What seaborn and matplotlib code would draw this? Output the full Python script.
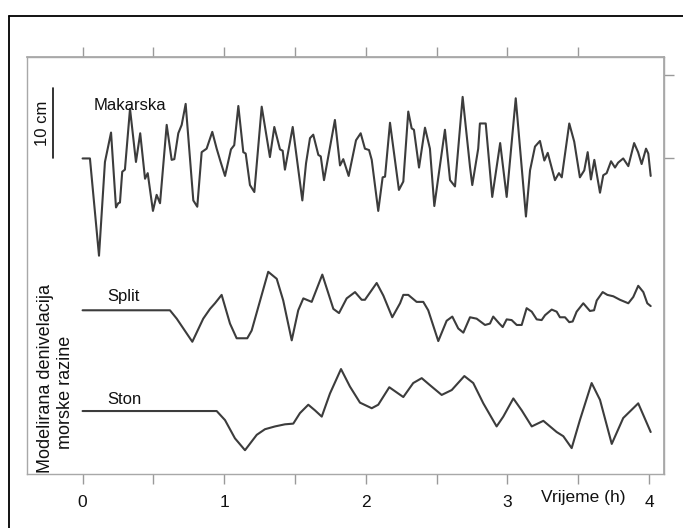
import numpy as np
import pandas as pd
import matplotlib
matplotlib.use("Agg")
import matplotlib.pyplot as plt
import seaborn as sns
from matplotlib.lines import Line2D

# ---------------- data (time in hours, level in cm relative to each station's baseline) -------------
mak_t = [0.0, 0.052, 0.116, 0.158, 0.201, 0.236, 0.252, 0.264, 0.280, 0.299, 0.335, 0.377, 0.407,
         0.441, 0.460, 0.497, 0.523, 0.547, 0.594, 0.629, 0.648, 0.676, 0.700, 0.728, 0.782, 0.810,
         0.841, 0.876, 0.916, 0.947, 0.975, 1.006, 1.048, 1.071, 1.100, 1.135, 1.152, 1.182, 1.213,
         1.265, 1.323, 1.354, 1.394, 1.413, 1.429, 1.484, 1.552, 1.578, 1.606, 1.629, 1.665, 1.682,
         1.705, 1.782, 1.818, 1.841, 1.879, 1.931, 1.964, 1.994, 2.023, 2.042, 2.088, 2.119, 2.136,
         2.171, 2.234, 2.265, 2.300, 2.324, 2.340, 2.376, 2.418, 2.453, 2.484, 2.559, 2.595, 2.630,
         2.684, 2.736, 2.752, 2.794, 2.806, 2.847, 2.893, 2.949, 2.995, 3.059, 3.131, 3.160, 3.195,
         3.230, 3.261, 3.285, 3.336, 3.364, 3.384, 3.437, 3.472, 3.512, 3.543, 3.567, 3.590, 3.614,
         3.654, 3.677, 3.701, 3.732, 3.760, 3.782, 3.818, 3.854, 3.895, 3.923, 3.948, 3.979, 3.995,
         4.012]
mak_y = [0.0, 0.0, -13.9, -0.5, 3.7, -7.0, -6.4, -6.3, -1.9, -1.6, 7.1, -0.5, 3.6,
         -2.9, -2.1, -7.5, -5.2, -6.4, 4.8, -0.2, -0.1, 3.6, 4.8, 7.8, -6.0, -6.9,
         0.9, 1.4, 3.8, 1.4, -0.5, -2.5, 1.3, 1.9, 7.5, 0.9, 0.7, -3.8, -4.8,
         7.4, 0.2, 4.5, 1.3, 1.1, -1.6, 4.5, -6.0, -0.7, 2.9, 3.4, 0.5, 0.3,
         -3.1, 5.5, -1.0, -0.1, -2.5, 2.6, 3.6, 1.4, 1.2, -0.2, -7.5, -2.7, -2.6,
         5.1, -4.5, -3.3, 6.7, 4.3, 4.1, -1.3, 4.4, 1.4, -6.8, 4.1, -3.1, -4.0,
         8.8, -1.2, -3.8, 1.4, 5.0, 5.0, -5.5, 2.2, -5.5, 8.6, -8.3, -1.7, 1.7,
         2.5, -0.3, 0.8, -3.1, -2.1, -2.7, 5.0, 2.4, -2.7, -1.7, 0.9, -3.0, -0.2,
         -4.9, -2.4, -2.1, -0.4, -1.3, -0.6, 0.0, -1.1, 2.2, 0.9, -0.8, 1.4, 0.7,
         -2.5]

spl_t = [0.0, 0.617, 0.665, 0.775, 0.852, 0.900, 0.935, 0.982, 1.041, 1.088, 1.163, 1.194, 1.311,
         1.371, 1.417, 1.477, 1.523, 1.559, 1.618, 1.693, 1.771, 1.811, 1.865, 1.924, 1.971, 1.994,
         2.077, 2.124, 2.187, 2.242, 2.265, 2.300, 2.359, 2.406, 2.441, 2.512, 2.571, 2.611, 2.653,
         2.689, 2.736, 2.783, 2.842, 2.877, 2.900, 2.943, 2.967, 2.995, 3.030, 3.066, 3.101, 3.136,
         3.172, 3.207, 3.242, 3.266, 3.313, 3.348, 3.371, 3.407, 3.437, 3.461, 3.489, 3.536, 3.583,
         3.612, 3.631, 3.673, 3.706, 3.748, 3.795, 3.854, 3.889, 3.924, 3.960, 3.988, 4.012]
spl_y = [0.0, 0.0, -1.2, -4.5, -1.2, 0.2, 1.0, 2.2, -1.9, -4.0, -4.0, -2.9, 5.5,
         4.5, 1.4, -4.3, 0.0, 1.7, 1.2, 5.1, 0.2, -0.4, 1.7, 2.6, 1.5, 1.5,
         3.9, 2.1, -1.0, 1.0, 2.2, 2.2, 1.2, 1.2, 0.0, -4.4, -1.5, -0.9, -2.6,
         -3.2, -1.0, -1.2, -2.1, -1.9, -0.9, -1.9, -2.4, -1.3, -1.4, -2.1, -2.1, 0.3,
         -0.2, -1.3, -1.4, -0.7, 0.1, -0.2, -1.0, -1.0, -1.7, -1.6, -0.2, 1.0, -0.1,
         0.0, 1.4, 2.6, 2.2, 2.0, 1.5, 1.0, 1.9, 3.5, 2.6, 1.0, 0.6]

sto_t = [0.0, 0.947, 1.006, 1.076, 1.147, 1.230, 1.288, 1.359, 1.429, 1.488, 1.535, 1.594, 1.641,
         1.689, 1.747, 1.825, 1.888, 1.959, 2.042, 2.088, 2.166, 2.265, 2.335, 2.395, 2.453, 2.536,
         2.607, 2.696, 2.759, 2.830, 2.924, 2.971, 3.042, 3.101, 3.172, 3.254, 3.348, 3.395, 3.454,
         3.512, 3.595, 3.654, 3.737, 3.818, 3.924, 4.012]
sto_y = [0.0, 0.0, -1.3, -3.9, -5.6, -3.4, -2.6, -2.2, -1.9, -1.8, -0.3, 0.9, 0.1,
         -0.8, 2.5, 6.0, 3.5, 1.2, 0.4, 0.9, 3.4, 2.0, 4.0, 4.7, 3.7, 2.3,
         3.0, 5.0, 4.0, 1.1, -2.2, -0.8, 1.8, 0.1, -2.2, -1.4, -3.0, -3.6, -5.3,
         -1.3, 4.0, 1.6, -4.7, -1.0, 1.1, -3.0]

stations = ["Makarska", "Split", "Ston"]
offsets = [0.0, -21.7, -36.1]          # vertical stacking of the traces (cm)
scale_bar_cm = 10
x_ticks = [0, 0.5, 1, 1.5, 2, 2.5, 3, 3.5, 4]
x_labels = ["0", "", "1", "", "2", "", "3", "", "4"]
top_ticks = [0, 0.5, 1, 1.5, 2, 2.5, 3, 3.5]
right_ticks = [0, 11.9]

# ---------------- build long table ----------------
frames = []
for name, t, y, off in zip(stations, [mak_t, spl_t, sto_t], [mak_y, spl_y, sto_y], offsets):
    frames.append(pd.DataFrame({"t": t, "y": np.array(y) + off, "station": name}))
df = pd.concat(frames, ignore_index=True)

# ---------------- figure ----------------
sns.set_theme(style="white")
plt.rcParams["font.family"] = ["Liberation Sans", "DejaVu Sans"]

fig = plt.figure(figsize=(6.83, 5.28), dpi=100)
ax = fig.add_axes([26.5 / 683, 1 - 474 / 528, (664 - 26.5) / 683, (474 - 57) / 528])

line_col = "#3c3c3c"
for name in stations:
    sub = df[df["station"] == name]
    sns.lineplot(data=sub, x="t", y="y", ax=ax, color=line_col, lw=1.5,
                 estimator=None, sort=False, legend=False,
                 solid_joinstyle="round", solid_capstyle="round")

ax.set_xlim(-0.396, 4.106)
ax.set_ylim(-45.1, 14.5)

spine_col = "#a8a8a8"
for s in ax.spines.values():
    s.set_color(spine_col)
    s.set_linewidth(1.0)

ax.set_xticks(x_ticks)
ax.set_xticklabels(x_labels)
ax.set_yticks([])
ax.tick_params(axis="x", direction="out", length=7, width=1.0, color="#9a9a9a",
               pad=8, labelsize=12.5, labelcolor="#111111", bottom=True)
ax.set_xlabel("")
ax.set_ylabel("")

top = ax.secondary_xaxis("top")
top.set_xticks(top_ticks)
top.set_xticklabels([])
top.tick_params(direction="out", length=7, width=1.0, color="#9a9a9a")
top.spines["top"].set_color(spine_col)

right = ax.secondary_yaxis("right")
right.set_yticks(right_ticks)
right.set_yticklabels([])
right.tick_params(direction="out", length=7, width=1.0, color="#9a9a9a")
right.spines["right"].set_color(spine_col)

# station labels
ax.text(0.08, 7.5, "Makarska", fontsize=12, ha="left", va="center", color="#111111")
ax.text(0.172, -19.8, "Split", fontsize=12, ha="left", va="center", color="#111111")
ax.text(0.172, -34.4, "Ston", fontsize=12, ha="left", va="center", color="#111111")

# scale bar
ax.plot([-0.209, -0.209], [0, scale_bar_cm], color="#111111", lw=1.2, clip_on=False)
ax.text(-0.285, 5.0, "10 cm", rotation=90, fontsize=12, ha="center", va="center", color="#111111")

# y label (two lines)
ax.text(-0.262, -31.5, "Modelirana denivelacija", rotation=90, fontsize=13,
        ha="center", va="center", color="#111111")
ax.text(-0.118, -33.5, "morske razine", rotation=90, fontsize=13,
        ha="center", va="center", color="#111111")

# x axis title
ax.text(3.237, -48.5, "Vrijeme (h)", fontsize=12.5, ha="left", va="center",
        color="#111111", clip_on=False)

# outer frame (left and top edges visible)
fx = 8.7 / 683
fy = 1 - 15.7 / 528
fig.add_artist(Line2D([fx, fx], [0, fy], transform=fig.transFigure, color="black", lw=1.3))
fig.add_artist(Line2D([fx, 1.0], [fy, fy], transform=fig.transFigure, color="black", lw=1.3))

fig.savefig("out.png", dpi=100)
